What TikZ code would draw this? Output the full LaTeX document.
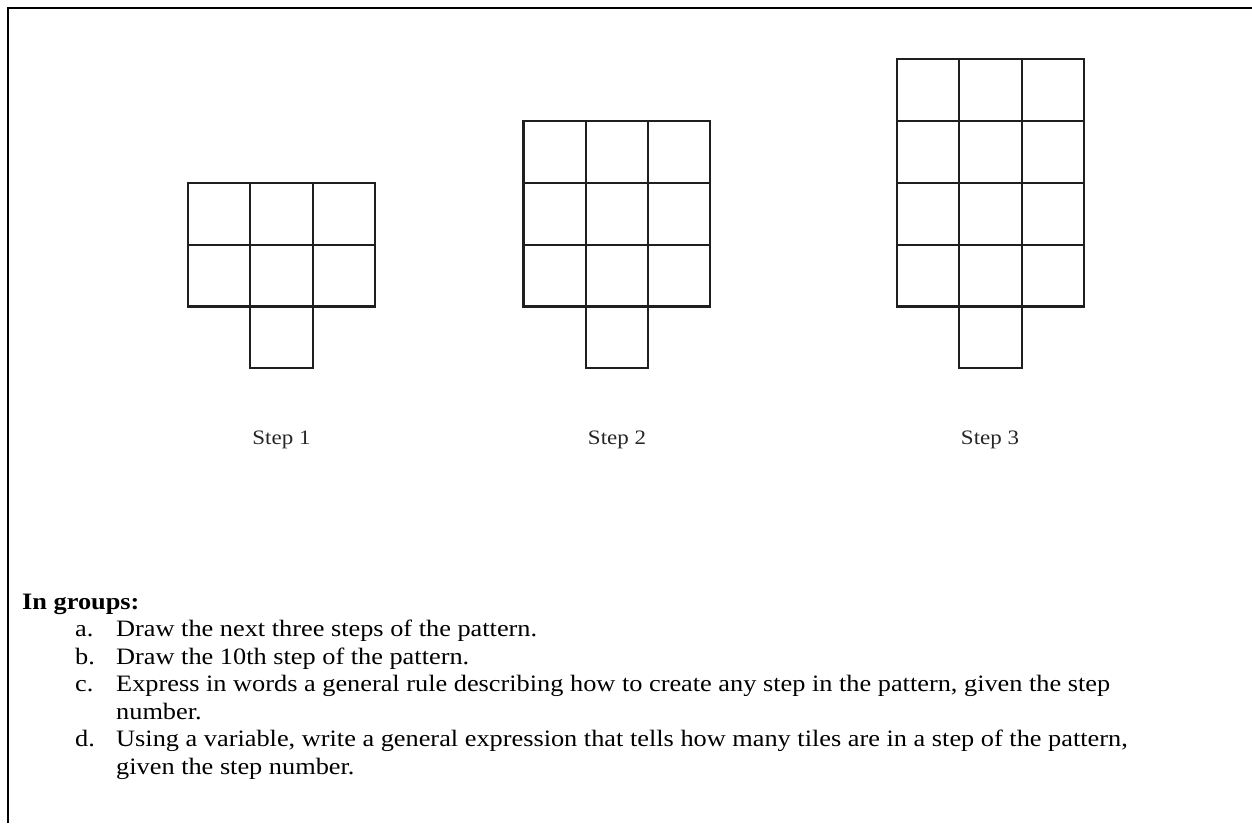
\documentclass[tikz,border=0pt]{standalone}
\usepackage{fontspec}
\setmainfont{Liberation Serif}[FakeStretch=1.12]
\usetikzlibrary{positioning}

\begin{document}
\begin{tikzpicture}[x=1pt,y=-1pt,
  tile/.style={line width=2.1pt,draw=black!88},
  frame/.style={line width=2.7pt},
  steplabel/.style={font=\fontsize{20.5}{24}\selectfont,text=black!85,anchor=base},
  body/.style={font=\fontsize{23.5}{27.5}\selectfont,anchor=base west,inner sep=0pt,align=left}]
  \useasboundingbox (0,0) rectangle (1252,823);

  % cell border, only top and left
  \draw[frame] (8,823) -- (8,8) -- (1252,8);

  % Step 1: 3x2 block and one tile below
  \begin{scope}[shift={(188,306.5)},x=62.3pt,y=61.9pt]
    \foreach \c in {0,1,2}
      \foreach \r in {0,1}
        \draw[tile] (\c,\r) rectangle ++(1,1);
    \draw[tile] (1,0) rectangle ++(1,-1);
  \end{scope}

  % Step 2
  \begin{scope}[shift={(523.5,306.5)},x=62.3pt,y=61.9pt]
    \foreach \c in {0,1,2}
      \foreach \r in {0,1,2}
        \draw[tile] (\c,\r) rectangle ++(1,1);
    \draw[tile] (1,0) rectangle ++(1,-1);
  \end{scope}

  % Step 3
  \begin{scope}[shift={(897,306.5)},x=62.3pt,y=61.9pt]
    \foreach \c in {0,1,2}
      \foreach \r in {0,1,2,3}
        \draw[tile] (\c,\r) rectangle ++(1,1);
    \draw[tile] (1,0) rectangle ++(1,-1);
  \end{scope}

  \node[steplabel] (lbl1) at (281.5,444) {Step 1};
  \node[steplabel] (lbl2) at (617,444) {Step 2};
  \node[steplabel] (lbl3) at (990,444) {Step 3};

  % task list (two-line nodes sit on their last baseline)
  \node[body,font=\fontsize{23.5}{27.5}\selectfont\bfseries] (head) at (22,609) {In groups:};
  \node[body] (ka) at (75,636.5) {a.};
  \node[body] (ta) at (116,636.5) {Draw the next three steps of the pattern.};
  \node[body] (kb) at (75,664) {b.};
  \node[body] (tb) at (116,664) {Draw the 10th step of the pattern.};
  \node[body] (kc) at (75,691.5) {c.};
  \node[body] (tc) at (116,719) {Express in words a general rule describing how to create any step in the pattern, given the step\\number.};
  \node[body] (kd) at (75,746.5) {d.};
  \node[body] (td) at (116,774) {Using a variable, write a general expression that tells how many tiles are in a step of the pattern,\\given the step number.};
\end{tikzpicture}
\end{document}
